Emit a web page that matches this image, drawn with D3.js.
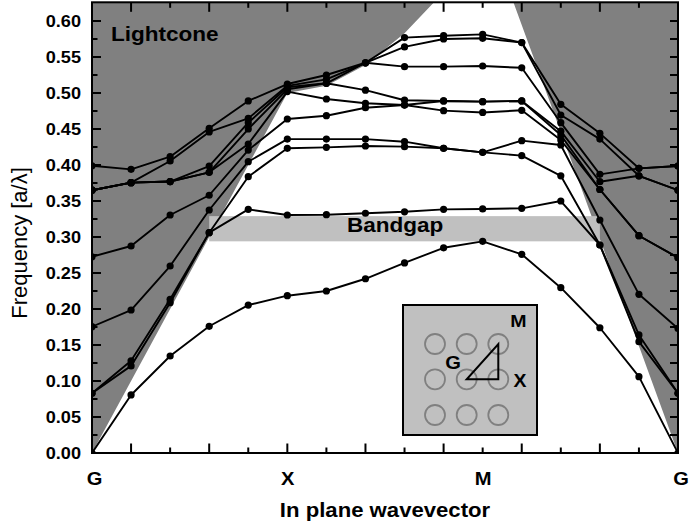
<!DOCTYPE html>
<html>
<head>
<meta charset="utf-8">
<script src="https://cdn.jsdelivr.net/npm/d3@7"></script>
<style>
  html, body { margin: 0; padding: 0; background: #fff; }
  svg { display: block; }
  text { font-family: "Liberation Sans", Arial, Helvetica, sans-serif; }
</style>
</head>
<body>
<svg id="chart" width="689" height="527"></svg>
<script>
// k-path sample index (0..15): G -> X -> M -> G, five steps per segment
const kIndex = [0, 1, 2, 3, 4, 5, 6, 7, 8, 9, 10, 11, 12, 13, 14, 15];
const symmetryLabels = ["G", "X", "M", "G"];
const symmetryIndex = [0, 5, 10, 15];

// photonic bands, frequency in a/λ at every k sample
const band1  = [0, 0.0806, 0.1347, 0.176, 0.2055, 0.2185, 0.225, 0.242, 0.264, 0.285, 0.294, 0.276, 0.2296, 0.174, 0.106, 0];
const band2  = [0.083, 0.121, 0.2088, 0.306, 0.3384, 0.3306, 0.331, 0.333, 0.335, 0.3384, 0.339, 0.3398, 0.35, 0.2889, 0.1546, 0.083];
const band3  = [0.083, 0.128, 0.2135, 0.306, 0.3838, 0.4232, 0.4245, 0.4264, 0.4255, 0.4232, 0.4176, 0.413, 0.385, 0.2889, 0.164, 0.083];
const band4  = [0.1754, 0.1986, 0.2597, 0.3375, 0.4046, 0.436, 0.436, 0.436, 0.4324, 0.4232, 0.4176, 0.4338, 0.4278, 0.3236, 0.2204, 0.173];
const band5  = [0.2726, 0.2875, 0.3306, 0.358, 0.4208, 0.4639, 0.4685, 0.4796, 0.4833, 0.4755, 0.473, 0.476, 0.4347, 0.366, 0.3018, 0.2713];
const band6  = [0.365, 0.3755, 0.377, 0.3898, 0.4292, 0.502, 0.4917, 0.4857, 0.4833, 0.489, 0.488, 0.489, 0.4417, 0.366, 0.3018, 0.2713];
const band7  = [0.365, 0.3755, 0.377, 0.3898, 0.45, 0.505, 0.5135, 0.504, 0.490, 0.489, 0.488, 0.489, 0.447, 0.3768, 0.385, 0.365];
const band8  = [0.365, 0.3755, 0.377, 0.3986, 0.4588, 0.508, 0.5135, 0.542, 0.5366, 0.5366, 0.5375, 0.535, 0.4588, 0.387, 0.3954, 0.3986];
const band9  = [0.365, 0.3755, 0.4056, 0.446, 0.4648, 0.51, 0.519, 0.542, 0.564, 0.575, 0.576, 0.570, 0.4694, 0.436, 0.385, 0.365];
const band10 = [0.399, 0.394, 0.4116, 0.451, 0.489, 0.5125, 0.525, 0.542, 0.577, 0.5796, 0.5815, 0.570, 0.4843, 0.444, 0.3954, 0.3986];
const bands = [band1, band2, band3, band4, band5, band6, band7, band8, band9, band10];

// light line bounding the shaded light cone
const lightK = [0, 5, 6, 7, 8, 9, 10, 10, 15];
const lightF = [0, 0.5, 0.51, 0.539, 0.583, 0.64, 0.707, 0.743, 0];

// complete band gap
const gapK = [3, 13];
const gapF = [0.294, 0.329];

// axis ticks
const yTicks = [0, 0.05, 0.10, 0.15, 0.20, 0.25, 0.30, 0.35, 0.40, 0.45, 0.50, 0.55, 0.60];
const yMinorTicks = [0.025, 0.075, 0.125, 0.175, 0.225, 0.275, 0.325, 0.375, 0.425, 0.475, 0.525, 0.575];
const xMajorTicks = [1, 3, 5, 7, 9, 11, 13];
const xMinorTicks = [0, 2, 4, 6, 8, 10, 12, 14];

(function draw() {
  const svg = d3.select("#chart");
  const W = 689, H = 527;
  const pLeft = 92, pRight = 678, pTop = 2.3, pBottom = 453;
  const yMax = 0.626;

  const x = d3.scaleLinear().domain([0, 15]).range([pLeft, pRight]);
  const y = d3.scaleLinear().domain([0, yMax]).range([pBottom, pTop]);

  svg.append("rect").attr("width", W).attr("height", H).attr("fill", "#fff");

  svg.append("defs").append("clipPath").attr("id", "plot")
    .append("rect").attr("x", pLeft).attr("y", pTop)
    .attr("width", pRight - pLeft).attr("height", pBottom - pTop);

  const plot = svg.append("g").attr("clip-path", "url(#plot)");

  // light cone region above the light line
  const conePts = [[0, yMax + 0.05]]
    .concat(lightK.map((k, i) => [k, lightF[i]]))
    .concat([[15, yMax + 0.05]]);
  plot.append("path")
    .attr("d", d3.line().x(d => x(d[0])).y(d => y(d[1]))(conePts) + "Z")
    .attr("fill", "#808080");

  // band gap stripe
  plot.append("rect")
    .attr("x", x(gapK[0])).attr("width", x(gapK[1]) - x(gapK[0]))
    .attr("y", y(gapF[1])).attr("height", y(gapF[0]) - y(gapF[1]))
    .attr("fill", "#c0c0c0");

  function label(g, px, py, txt, size, weight, anchor, sx) {
    return g.append("text")
      .attr("transform", `translate(${px},${py}) scale(${sx},1)`)
      .attr("text-anchor", anchor)
      .attr("font-size", size)
      .attr("font-weight", weight)
      .attr("fill", "#000")
      .text(txt);
  }

  label(svg, 111, 40.7, "Lightcone", 20.5, "bold", "start", 1.1);
  label(svg, 347, 232.3, "Bandgap", 20.5, "bold", "start", 1.1);

  // bands
  const line = d3.line().x((d, i) => x(kIndex[i])).y(d => y(d));
  plot.selectAll("path.band").data(bands).join("path")
    .attr("class", "band")
    .attr("d", d => line(d))
    .attr("fill", "none").attr("stroke", "#000")
    .attr("stroke-width", 1.9).attr("stroke-linejoin", "round");

  bands.forEach(b => {
    plot.append("g").selectAll("circle").data(b).join("circle")
      .attr("cx", (d, i) => x(kIndex[i]))
      .attr("cy", d => y(d))
      .attr("r", 3.6).attr("fill", "#000");
  });

  // inset: square lattice of rods and irreducible Brillouin zone
  const inset = svg.append("g");
  const box = { x0: 403, y0: 305, x1: 537, y1: 435 };
  inset.append("rect")
    .attr("x", box.x0).attr("y", box.y0)
    .attr("width", box.x1 - box.x0).attr("height", box.y1 - box.y0)
    .attr("fill", "#c0c0c0").attr("stroke", "#000").attr("stroke-width", 2);
  const rodCols = [435, 466.7, 498.3];
  const rodRows = [344, 379.3, 415];
  rodRows.forEach(ry => rodCols.forEach(rx => {
    inset.append("circle").attr("cx", rx).attr("cy", ry).attr("r", 10)
      .attr("fill", "none").attr("stroke", "#808080").attr("stroke-width", 1.8);
  }));
  inset.append("path")
    .attr("d", `M${rodCols[1]},${rodRows[1]} L${rodCols[2]},${rodRows[1]} L${rodCols[2]},${rodRows[0]} Z`)
    .attr("fill", "none").attr("stroke", "#000").attr("stroke-width", 2);
  label(inset, 518.5, 326.5, "M", 17, "bold", "middle", 1.15);
  label(inset, 453, 369, "G", 18, "bold", "middle", 1.12);
  label(inset, 520, 387, "X", 18, "bold", "middle", 1.08);

  // frame and ticks
  const axes = svg.append("g").attr("stroke", "#000");
  axes.append("rect").attr("x", pLeft).attr("y", pTop)
    .attr("width", pRight - pLeft).attr("height", pBottom - pTop)
    .attr("fill", "none").attr("stroke-width", 2);

  function hTick(g, v, len, side) {
    const py = y(v);
    if (side === "left") g.append("line").attr("x1", pLeft).attr("x2", pLeft + len).attr("y1", py).attr("y2", py);
    else g.append("line").attr("x1", pRight).attr("x2", pRight - len).attr("y1", py).attr("y2", py);
  }
  function vTick(g, k, len, side) {
    const px = x(k);
    if (side === "bottom") g.append("line").attr("x1", px).attr("x2", px).attr("y1", pBottom).attr("y2", pBottom - len);
    else g.append("line").attr("x1", px).attr("x2", px).attr("y1", pTop).attr("y2", pTop + len);
  }
  const tg = axes.append("g").attr("stroke-width", 2);
  yTicks.forEach(v => { hTick(tg, v, 9, "left"); hTick(tg, v, 8, "right"); });
  yMinorTicks.forEach(v => { hTick(tg, v, 5.5, "left"); hTick(tg, v, 8, "right"); });
  xMajorTicks.forEach(k => { vTick(tg, k, 9.5, "bottom"); vTick(tg, k, 9.5, "top"); });
  xMinorTicks.forEach(k => { vTick(tg, k, 5.5, "bottom"); vTick(tg, k, 5.5, "top"); });

  // tick labels
  const fmt = d3.format(".2f");
  yTicks.forEach(v => {
    label(svg, 81, y(v) + 5.8, fmt(v), 16.5, "bold", "end", 1.1);
  });
  symmetryLabels.forEach((s, i) => {
    label(svg, x(symmetryIndex[i]) + (i === 0 ? 2.5 : (i === 3 ? 3 : 0.5)), 484.5, s, 19, "bold", "middle", 1.06);
  });

  // axis titles
  label(svg, 385, 516.5, "In plane wavevector", 20.5, "bold", "middle", 1.08);
  svg.append("text")
    .attr("transform", "translate(27,243) rotate(-90)")
    .attr("text-anchor", "middle")
    .attr("font-size", 22)
    .attr("fill", "#000")
    .text("Frequency [a/λ]");
})();
</script>
</body>
</html>
